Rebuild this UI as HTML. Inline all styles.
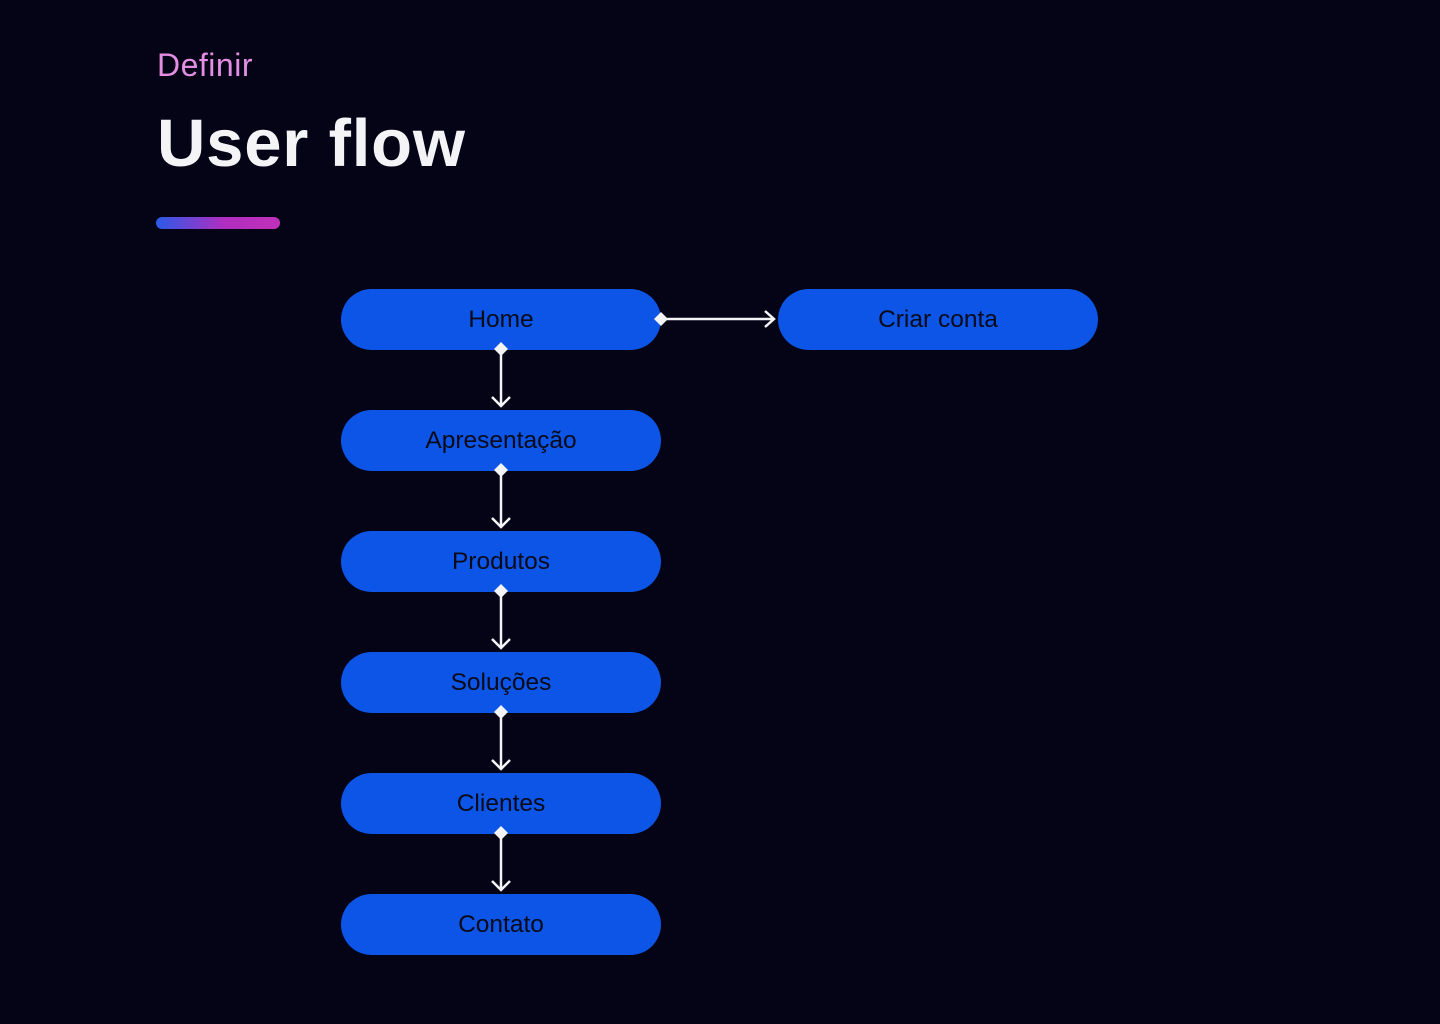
<!DOCTYPE html>
<html><head><meta charset="utf-8"><style>
body{margin:0;width:1440px;height:1024px;background:#050316;position:relative;overflow:hidden;font-family:"Liberation Sans",sans-serif}
.t1{position:absolute;left:157px;top:47px;font-size:32px;color:#e38ee2;letter-spacing:0.5px}
.t2{position:absolute;left:157px;top:105px;font-size:67px;font-weight:bold;color:#f4f4f6;letter-spacing:0.8px}
.bar{position:absolute;left:156px;top:217px;width:124px;height:12px;border-radius:6px;background:linear-gradient(90deg,#2a5ae8,#b02ec0 55%,#c030b8)}
.n{position:absolute;width:320px;height:61px;border-radius:31px;background:#0c55e6;color:#0a0a18;font-size:24.5px;display:flex;align-items:center;justify-content:center;padding-top:1px;box-sizing:border-box}
</style></head><body>
<div class="t1">Definir</div>
<div class="t2">User flow</div>
<div class="bar"></div>
<div class="n" style="left:341px;top:289px">Home</div>
<div class="n" style="left:778px;top:289px">Criar conta</div>
<div class="n" style="left:341px;top:410px">Apresentação</div>
<div class="n" style="left:341px;top:531px">Produtos</div>
<div class="n" style="left:341px;top:652px">Soluções</div>
<div class="n" style="left:341px;top:773px">Clientes</div>
<div class="n" style="left:341px;top:894px">Contato</div>
<svg width="1440" height="1024" style="position:absolute;left:0;top:0" fill="none" stroke="#f4f4f6" stroke-width="2.5">
<path d="M661 319H774M765 311l9 8-9 8"/>
<polygon points="661,312 668,319 661,326 654,319" fill="#f4f4f6" stroke="none"/>
<g id="c">
<path d="M501 350V406M492 397l9 9 9-9"/>
<polygon points="501,342 508,349 501,356 494,349" fill="#f4f4f6" stroke="none"/>
</g>
<use href="#c" y="121"/><use href="#c" y="242"/><use href="#c" y="363"/><use href="#c" y="484"/>
</svg>
</body></html>
